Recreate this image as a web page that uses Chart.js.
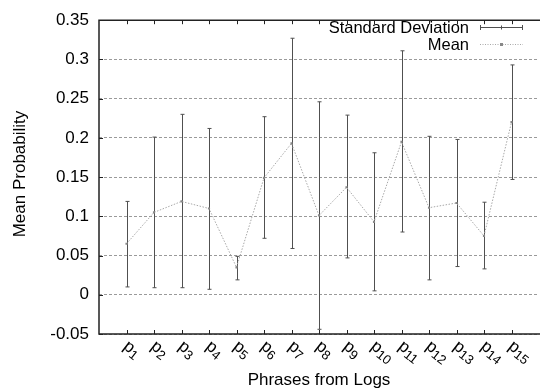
<!DOCTYPE html>
<html>
<head>
<meta charset="utf-8">
<script src="https://cdn.jsdelivr.net/npm/chart.js@4"></script>
<style>
  html, body { margin: 0; padding: 0; background: #fff; }
  #wrap { width: 543px; height: 390px; }
</style>
</head>
<body>
<div id="wrap"><canvas id="canvas" width="543" height="390"></canvas></div>
<script>
const phrases = ['p1', 'p2', 'p3', 'p4', 'p5', 'p6', 'p7', 'p8', 'p9', 'p10', 'p11', 'p12', 'p13', 'p14', 'p15']
const meanProb = [0.065, 0.105, 0.119, 0.110, 0.035, 0.149, 0.193, 0.101, 0.137, 0.093, 0.195, 0.111, 0.117, 0.075, 0.220]
const sdHigh = [0.119, 0.201, 0.230, 0.212, 0.049, 0.227, 0.327, 0.246, 0.229, 0.181, 0.311, 0.202, 0.198, 0.118, 0.293]
const sdLow = [0.010, 0.009, 0.009, 0.007, 0.019, 0.072, 0.059, -0.044, 0.047, 0.005, 0.080, 0.019, 0.036, 0.033, 0.147]
const yTicks = [-0.05, 0, 0.05, 0.1, 0.15, 0.2, 0.25, 0.3, 0.35]

const FONT = '"Liberation Sans", Arial, Helvetica, sans-serif'
const BAR_COLOR = '#505050'
const MEAN_COLOR = '#a8a8a8'

// error bars go under the mean line
const errorBars = {
  id: 'errorBars',
  beforeDatasetsDraw: (chart) => {
    const ctx = chart.ctx
    const xs = chart.scales.x
    const ys = chart.scales.y
    ctx.save()
    ctx.strokeStyle = BAR_COLOR
    ctx.lineWidth = 1
    phrases.forEach((p, i) => {
      const x = Math.round(xs.getPixelForValue(i + 1)) + 0.5
      const y1 = ys.getPixelForValue(sdHigh[i])
      const y2 = ys.getPixelForValue(sdLow[i])
      ctx.beginPath()
      ctx.moveTo(x, y1); ctx.lineTo(x, y2)
      ctx.moveTo(x - 2, y1); ctx.lineTo(x + 2, y1)
      ctx.moveTo(x - 2, y2); ctx.lineTo(x + 2, y2)
      ctx.stroke()
    })
    ctx.restore()
  }
}

// frame, tick marks, rotated phrase labels, titles, key
const decorations = {
  id: 'decorations',
  afterDraw: (chart) => {
    const ctx = chart.ctx
    const a = chart.chartArea
    const xs = chart.scales.x
    const ys = chart.scales.y
    ctx.save()

    ctx.strokeStyle = '#222'
    ctx.lineWidth = 1.5
    ctx.beginPath()
    ctx.moveTo(a.right + 1, a.top); ctx.lineTo(a.left, a.top)
    ctx.lineTo(a.left, a.bottom); ctx.lineTo(a.right + 1, a.bottom)
    ctx.stroke()

    ctx.lineWidth = 1
    ctx.beginPath()
    phrases.forEach((p, i) => {
      const x = Math.round(xs.getPixelForValue(i + 1)) + 0.5
      ctx.moveTo(x, a.bottom); ctx.lineTo(x, a.bottom - 4)
      ctx.moveTo(x, a.top); ctx.lineTo(x, a.top + 4)
    })
    yTicks.forEach(v => {
      const y = Math.round(ys.getPixelForValue(v)) + 0.5
      ctx.moveTo(a.left, y); ctx.lineTo(a.left + 4, y)
    })
    ctx.stroke()

    // p with subscript number, rotated clockwise
    ctx.fillStyle = '#000'
    ctx.textBaseline = 'alphabetic'
    ctx.textAlign = 'left'
    phrases.forEach((p, i) => {
      const x = xs.getPixelForValue(i + 1)
      ctx.save()
      ctx.translate(x - 4, a.bottom + 14)
      ctx.rotate(Math.PI / 180 * 38)
      ctx.font = '17px ' + FONT
      ctx.fillText(p[0], 0, 0)
      const w = ctx.measureText(p[0]).width
      ctx.font = '13px ' + FONT
      ctx.fillText(p.slice(1), w, 3)
      ctx.restore()
    })

    ctx.font = '17px ' + FONT
    ctx.textAlign = 'center'
    ctx.textBaseline = 'middle'
    ctx.fillText('Phrases from Logs', (a.left + a.right) / 2, 380)
    ctx.save()
    ctx.translate(20, 174)
    ctx.rotate(-Math.PI / 2)
    ctx.fillText('Mean Probability', 0, 0)
    ctx.restore()

    // key
    ctx.font = '16.5px ' + FONT
    ctx.textAlign = 'right'
    ctx.fillText('Standard Deviation', 469, 28)
    ctx.fillText('Mean', 469, 45)
    ctx.strokeStyle = BAR_COLOR
    ctx.beginPath()
    ctx.moveTo(480, 27.5); ctx.lineTo(523, 27.5)
    ctx.moveTo(480.5, 25); ctx.lineTo(480.5, 30)
    ctx.moveTo(522.5, 25); ctx.lineTo(522.5, 30)
    ctx.moveTo(501.5, 25.5); ctx.lineTo(501.5, 29.5)
    ctx.stroke()
    ctx.strokeStyle = MEAN_COLOR
    ctx.setLineDash([1, 1.5])
    ctx.beginPath()
    ctx.moveTo(480, 44.5); ctx.lineTo(523, 44.5)
    ctx.stroke()
    ctx.fillStyle = '#888'
    ctx.fillRect(500, 43, 3, 3)
    ctx.restore()
  }
}

const chartMean = new Chart(document.getElementById('canvas'), {
  type: 'line',
  data: {
    datasets: [{
      label: 'Mean',
      data: meanProb.map((v, i) => ({ x: i + 1, y: v })),
      borderColor: MEAN_COLOR,
      borderWidth: 1,
      borderDash: [1.5, 1.5],
      pointRadius: 1.5,
      pointStyle: 'rect',
      pointBackgroundColor: '#888',
      pointBorderWidth: 0,
      tension: 0
    }]
  },
  options: {
    responsive: false,
    animation: false,
    layout: { padding: { top: 16, right: 0, bottom: 56, left: 0 } },
    plugins: { legend: { display: false }, tooltip: { enabled: false } },
    scales: {
      x: {
        type: 'linear',
        min: 0,
        max: 16,
        ticks: { display: false },
        grid: { display: false },
        border: { display: false },
        afterFit: (s) => { s.height = 0 }
      },
      y: {
        min: -0.05,
        max: 0.35,
        afterBuildTicks: (s) => { s.ticks = yTicks.map(v => ({ value: v })) },
        ticks: {
          color: '#000',
          padding: 10,
          font: { family: FONT, size: 17 },
          callback: (v) => String(parseFloat(v.toFixed(2)))
        },
        grid: { color: '#9a9a9a', lineWidth: 1, drawTicks: false },
        border: { display: false, dash: [3, 2] },
        afterFit: (s) => { s.width = 99 }
      }
    }
  },
  plugins: [errorBars, decorations]
})
</script>
</body>
</html>
